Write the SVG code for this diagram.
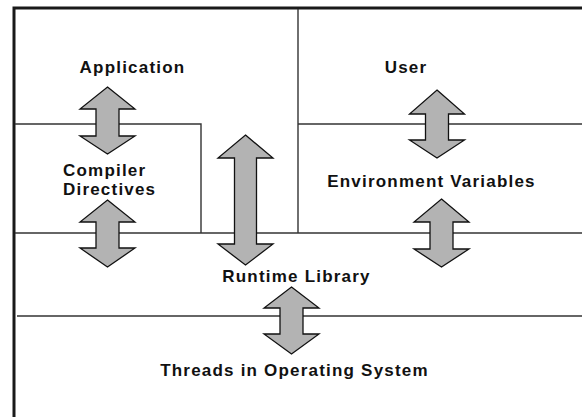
<svg xmlns="http://www.w3.org/2000/svg" width="582" height="417" viewBox="0 0 582 417">
  <style>
    .frame { stroke: #1a1a1a; stroke-width: 3; fill: none; }
    .div { stroke: #333; stroke-width: 1.4; fill: none; }
    .lbl { font-family: "Liberation Sans", Arial, sans-serif; font-weight: bold; font-size: 17px; letter-spacing: 1.2px; fill: #111; }
    .arr { fill: #b3b3b3; stroke: #111; stroke-width: 1.3; stroke-linejoin: miter; }
  </style>
  <rect x="0" y="0" width="582" height="417" fill="#ffffff"/>
  <g id="frame">
    <path class="frame" d="M14,417 V8 H582"/>
    <path class="div" d="M298,9 V233"/>
    <path class="div" d="M15,124 H201 V233"/>
    <path class="div" d="M298,124 H582"/>
    <path class="div" d="M15,233 H582"/>
    <path class="div" d="M17,316 H582"/>
  </g>
  <g id="application"><text class="lbl" x="132.5" y="73" text-anchor="middle">Application</text></g>
  <g id="user"><text class="lbl" x="406" y="73" text-anchor="middle">User</text></g>
  <g id="compiler-directives">
    <text class="lbl" x="63" y="176">Compiler</text>
    <text class="lbl" x="63" y="195">Directives</text>
  </g>
  <g id="environment-variables"><text class="lbl" x="431.5" y="187" text-anchor="middle">Environment Variables</text></g>
  <g id="runtime-library"><text class="lbl" x="296.5" y="282" text-anchor="middle">Runtime Library</text></g>
  <g id="threads-os"><text class="lbl" x="294.5" y="376" text-anchor="middle">Threads in Operating System</text></g>
  <g id="connectors">
    <polygon class="arr" points="107.5,87 135,109 119,109 119,136 135,136 107.5,154 80,136 96,136 96,109 80,109"/>
    <polygon class="arr" points="107.5,200 135,222 119,222 119,248 135,248 107.5,267 80,248 96,248 96,222 80,222"/>
    <polygon class="arr" points="245.5,135 273,158 256.5,158 256.5,244 273,244 245.5,265 218,244 234.5,244 234.5,158 218,158"/>
    <polygon class="arr" points="437,90 464.5,114 448.5,114 448.5,140 464.5,140 437,158 409.5,140 425.5,140 425.5,114 409.5,114"/>
    <polygon class="arr" points="441.5,199 469,222 453,222 453,249 469,249 441.5,267 414,249 430,249 430,222 414,222"/>
    <polygon class="arr" points="291.5,287 319,308 303,308 303,334 319,334 291.5,354 264,334 280,334 280,308 264,308"/>
  </g>
</svg>
